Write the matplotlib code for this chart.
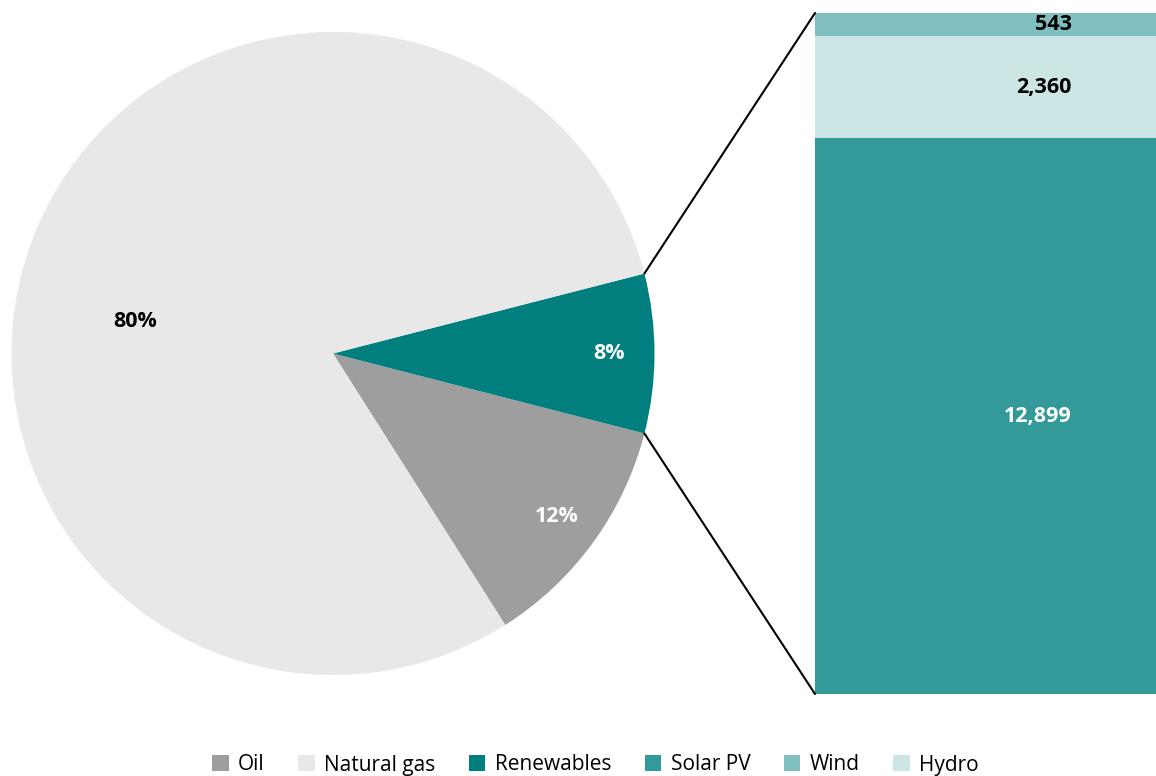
import matplotlib
matplotlib.use("Agg")
import matplotlib.pyplot as plt
import numpy as np
from matplotlib.patches import ConnectionPatch, Patch

plt.rcParams["font.family"] = ["Open Sans", "DejaVu Sans"]

# pie: share of generation
pie_labels = ["Oil", "Renewables", "Natural gas"]
pie_values = [12, 8, 80]
pie_colors = ["#9d9e9d", "#007f7e", "#e8e8e8"]

# bar: breakdown of renewables (bottom -> top)
bar_labels = ["Solar PV", "Hydro", "Wind"]
bar_values = [12899, 2360, 543]
bar_colors = ["#339999", "#cce6e6", "#80bfbf"]
bar_text = ["12,899", "2,360", "543"]
bar_text_colors = ["white", "black", "black"]

legend_order = ["Oil", "Natural gas", "Renewables", "Solar PV", "Wind", "Hydro"]
color_of = dict(zip(pie_labels + bar_labels, pie_colors + bar_colors))

W, H = 1156, 776
fig = plt.figure(figsize=(W / 100, H / 100), dpi=100)

# pie axes sized to the circle
cx, cy, r = 333, 353.5, 321.5
ax_pie = fig.add_axes([(cx - r) / W, (H - cy - r) / H, 2 * r / W, 2 * r / H])
start = -(pie_values[0] + pie_values[1] / 2) * 3.6
wedges, _, autotexts = ax_pie.pie(
    pie_values, colors=pie_colors, startangle=start, counterclock=True,
    autopct=lambda p: f"{p:.0f}%", pctdistance=0.86,
    textprops=dict(fontsize=15.5, fontweight="bold"))
ax_pie.set_xlim(-1, 1)
ax_pie.set_ylim(-1, 1)
autotexts[0].set_color("white")
autotexts[1].set_color("white")
autotexts[2].set_color("black")
autotexts[2].set_position((-0.615, 0.10))

# stacked bar, running off the right edge like the original
bx0, bx1, btop, bbot = 815, 1265, 13, 694
ax_bar = fig.add_axes([bx0 / W, (H - bbot) / H, (bx1 - bx0) / W, (bbot - btop) / H])
bottom = 0
for val, col, txt, tcol in zip(bar_values, bar_colors, bar_text, bar_text_colors):
    ax_bar.bar(0, val, width=1, bottom=bottom, color=col, linewidth=0)
    ax_bar.text(0.071, bottom + val / 2, txt, ha="right", va="center",
                fontsize=15.5, fontweight="bold", color=tcol)
    bottom += val
total = bottom
ax_bar.set_xlim(-0.5, 0.5)
ax_bar.set_ylim(0, total)
ax_bar.axis("off")

# lines from the renewables wedge to the bar
w = wedges[1]
for ang, yb in [(w.theta2, total), (w.theta1, 0)]:
    t = np.deg2rad(ang)
    con = ConnectionPatch(xyA=(-0.5, yb), coordsA=ax_bar.transData,
                          xyB=(np.cos(t), np.sin(t)), coordsB=ax_pie.transData,
                          color="black", linewidth=1.5)
    fig.add_artist(con)

handles = [Patch(facecolor=color_of[n], edgecolor="none") for n in legend_order]
fig.legend(handles, legend_order, loc="center", bbox_to_anchor=(0.515, (H - 765) / H),
           ncol=6, frameon=False, fontsize=15, handlelength=0.8, handleheight=0.8,
           handletextpad=0.45, columnspacing=1.6)

fig.savefig("out.png", dpi=100)
